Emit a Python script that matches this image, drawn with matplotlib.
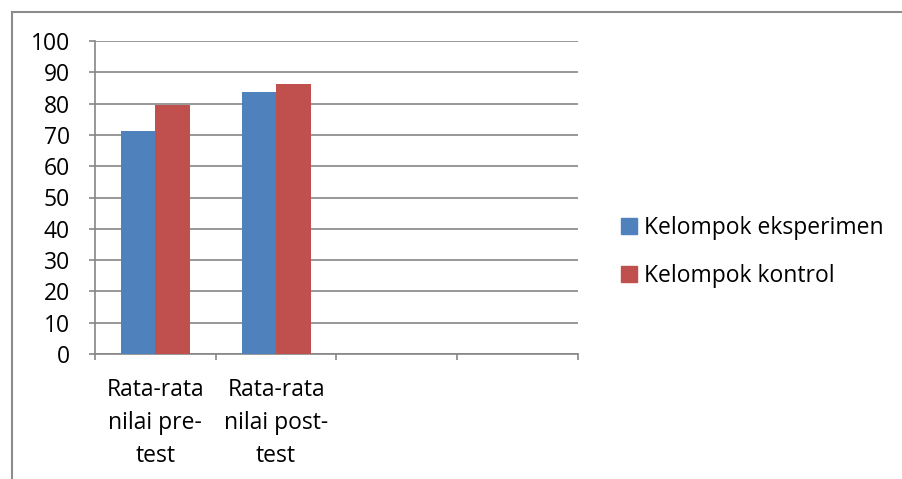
import numpy as np
import matplotlib
matplotlib.use("Agg")
import matplotlib.pyplot as plt
from matplotlib.lines import Line2D

plt.rcParams["font.family"] = ["Open Sans", "DejaVu Sans"]

categories = ["Rata-rata\nnilai pre-\ntest", "Rata-rata\nnilai post-\ntest", "", ""]
series_names = ["Kelompok eksperimen", "Kelompok kontrol"]
eksperimen = [71.2, 83.8]
kontrol = [79.7, 86.3]
colors = ["#4F81BD", "#C0504D"]
yticks = list(range(0, 101, 10))

grid_col = "#868686"
fs = 16.5

fig = plt.figure(figsize=(9.03, 4.79), dpi=100)
ax = fig.add_axes([95 / 903, 1 - 354 / 479, (578 - 95) / 903, (354 - 41) / 479])

# bars: Excel-like layout, gap width 150%
width = 1 / 3.5
x = np.arange(len(eksperimen)) + 0.5
ax.bar(x - width / 2, eksperimen, width, color=colors[0], label=series_names[0], zorder=3)
ax.bar(x + width / 2, kontrol, width, color=colors[1], label=series_names[1], zorder=3)

ax.set_xlim(0, len(categories))
ax.set_ylim(0, 100)
ax.set_yticks(yticks)
ax.yaxis.grid(True, color=grid_col, linewidth=1.2, zorder=0)

# category separators as ticks, labels centred in each slot
ax.set_xticks(np.arange(len(categories) + 1))
ax.set_xticklabels([])
ax.set_xticks(np.arange(len(categories)) + 0.5, minor=True)
ax.set_xticklabels(categories, minor=True, fontsize=fs, linespacing=1.5, va="top")
ax.tick_params(axis="x", which="major", length=4.5, color=grid_col, width=1.2, direction="out")
ax.tick_params(axis="x", which="minor", length=0, pad=17)
ax.tick_params(axis="y", length=4.5, color=grid_col, width=1.2, labelsize=fs, pad=13.5)

for side in ["top", "right"]:
    ax.spines[side].set_visible(False)
for side in ["left", "bottom"]:
    ax.spines[side].set_color(grid_col)
    ax.spines[side].set_linewidth(1.2)

handles = [Line2D([], [], marker="s", linestyle="none", markersize=11,
                  markerfacecolor=c, markeredgecolor=c) for c in colors]
fig.legend(handles, series_names, loc="center left", bbox_to_anchor=(611 / 903, 1 - 252 / 479),
           frameon=False, fontsize=fs, handlelength=0.75, handletextpad=0.3,
           labelspacing=1.05, borderaxespad=0)

# outer chart frame (only top and left edges fall inside the canvas)
fig.add_artist(Line2D([12 / 903, 12 / 903], [0, 1 - 11.5 / 479], transform=fig.transFigure,
                      color="#8C8C8C", linewidth=1.5))
fig.add_artist(Line2D([12 / 903, 1], [1 - 11.5 / 479, 1 - 11.5 / 479], transform=fig.transFigure,
                      color="#8C8C8C", linewidth=1.5))

fig.savefig("out.png", dpi=100)
